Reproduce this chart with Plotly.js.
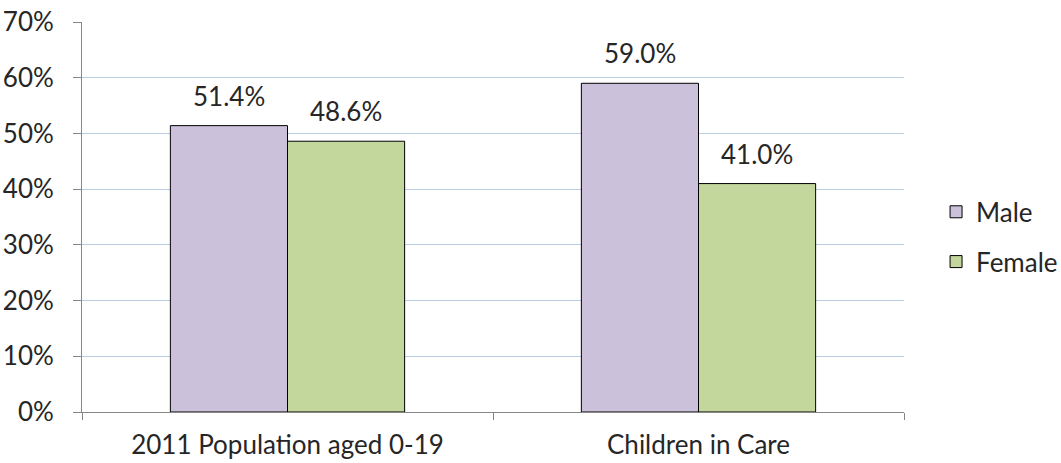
<!DOCTYPE html>
<html>
<head>
<meta charset="utf-8">
<script src="https://cdn.plot.ly/plotly-3.0.1.min.js"></script>
<style>
html,body{margin:0;padding:0;background:#fff;}
#chart{width:1061px;height:463px;}
</style>
</head>
<body>
<div id="chart"></div>
<script>
const categories = ["2011 Population aged 0-19", "Children in Care"];
const maleValues = [0.514, 0.590];
const femaleValues = [0.486, 0.410];
const seriesNames = ["Male", "Female"];

const FONT = "Lato, 'Open Sans', sans-serif";
const TXT = "#262626";
const FS = 26;

const traces = [
  {type: "bar", name: seriesNames[0], x: categories, y: maleValues,
   marker: {color: "#CCC1DA", line: {color: "#000000", width: 1}},
   legendgroup: "m", hoverinfo: "skip"},
  {type: "bar", name: seriesNames[1], x: categories, y: femaleValues,
   marker: {color: "#C3D69B", line: {color: "#000000", width: 1}},
   legendgroup: "f", hoverinfo: "skip"}
];

const annotations = [];
[maleValues, femaleValues].forEach((vals, si) => {
  vals.forEach((v, i) => {
    annotations.push({
      x: categories[i], y: v, xref: "x", yref: "y",
      text: (v * 100).toFixed(1) + "%",
      showarrow: false, yanchor: "bottom",
      xshift: si === 0 ? -59 : 58, yshift: 12,
      font: {family: FONT, size: FS, color: TXT}
    });
  });
});

const layout = {
  width: 1061, height: 463,
  margin: {l: 82, r: 157, t: 22, b: 51, autoexpand: false},
  paper_bgcolor: "#ffffff", plot_bgcolor: "#ffffff",
  barmode: "group", bargap: 0.43, bargroupgap: 0,
  font: {family: FONT, size: FS, color: TXT},
  xaxis: {
    type: "category", tickson: "boundaries", ticks: "outside", ticklen: 7,
    tickcolor: "#868686", showline: true, linecolor: "#868686", linewidth: 1,
    showgrid: false, ticklabelstandoff: 10,
    tickfont: {family: FONT, size: FS, color: TXT}
  },
  yaxis: {
    range: [0, 0.7], dtick: 0.1, tickformat: ".0%",
    ticks: "outside", ticklen: 8, tickcolor: "#868686",
    showline: true, linecolor: "#868686", linewidth: 1,
    gridcolor: "#B9CDE5", gridwidth: 1, zeroline: false,
    ticklabelstandoff: 14,
    tickfont: {family: FONT, size: FS, color: TXT}
  },
  showlegend: true,
  legend: {
    x: 1.039, y: 0.449, xanchor: "left", yanchor: "middle",
    traceorder: "grouped", tracegroupgap: 13,
    font: {family: FONT, size: FS, color: TXT},
    itemwidth: 30
  },
  annotations: annotations
};

Plotly.newPlot("chart", traces, layout, {displayModeBar: false, staticPlot: true});
</script>
</body>
</html>
